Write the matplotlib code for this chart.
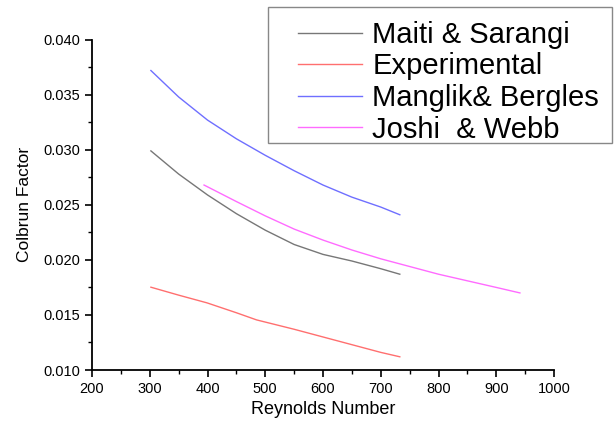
import numpy as np
import matplotlib
matplotlib.use("Agg")
import matplotlib.pyplot as plt
from matplotlib.patches import Rectangle
from matplotlib.ticker import MultipleLocator, FormatStrFormatter

plt.rcParams['font.family'] = ['Liberation Sans', 'DejaVu Sans']

# Maiti & Sarangi
re_ms = [302, 350, 400, 450, 500, 550, 600, 650, 700, 733]
f_ms = [0.0299, 0.0278, 0.0259, 0.0242, 0.0227, 0.0214, 0.0205, 0.0199, 0.0192, 0.0187]

# Experimental
re_exp = [302, 350, 399, 450, 485, 550, 600, 650, 700, 733]
f_exp = [0.01752, 0.0168, 0.0161, 0.0152, 0.01455, 0.0137, 0.0130, 0.0123, 0.0116, 0.0112]

# Manglik & Bergles
re_mb = [302, 350, 400, 450, 500, 550, 600, 650, 700, 733]
f_mb = [0.0372, 0.0348, 0.0327, 0.0310, 0.0295, 0.0281, 0.0268, 0.0257, 0.0248, 0.0241]

# Joshi & Webb
re_jw = [394, 450, 500, 550, 600, 650, 700, 750, 800, 850, 900, 941]
f_jw = [0.0268, 0.0253, 0.0240, 0.0228, 0.0218, 0.0209, 0.0201, 0.0194, 0.0187, 0.0181, 0.0175, 0.0170]

W, H = 615, 426
fig = plt.figure(figsize=(W / 100, H / 100), dpi=100)
ax = fig.add_axes([92/W, 56/H, 462/W, 330.3/H])

ax.plot(re_ms, f_ms, color='#777777', lw=1.0, label='Maiti & Sarangi')
ax.plot(re_exp, f_exp, color='#ff6f6f', lw=1.0, label='Experimental')
ax.plot(re_mb, f_mb, color='#6f6fff', lw=1.0, label='Manglik& Bergles')
ax.plot(re_jw, f_jw, color='#ff6bff', lw=1.0, label='Joshi  & Webb')

ax.set_xlim(200, 1000)
ax.set_ylim(0.010, 0.040)
ax.xaxis.set_major_locator(MultipleLocator(100))
ax.xaxis.set_minor_locator(MultipleLocator(50))
ax.yaxis.set_major_locator(MultipleLocator(0.005))
ax.yaxis.set_minor_locator(MultipleLocator(0.0025))
ax.yaxis.set_major_formatter(FormatStrFormatter('%.3f'))

for s in ['top', 'right']:
    ax.spines[s].set_visible(False)
for s in ['left', 'bottom']:
    ax.spines[s].set_linewidth(1.3)
ax.tick_params(which='major', direction='out', length=5, width=1.2, labelsize=10.5)
ax.tick_params(which='minor', direction='out', length=3, width=1.0)

ax.set_xlabel('Reynolds Number', fontsize=13)
ax.set_ylabel('Colbrun Factor', fontsize=12.5, labelpad=8)

# legend box sits above the axes, frame drawn separately
fig.patches.append(Rectangle((268/W, 1 - 143/H), 344/W, 136/H,
                             transform=fig.transFigure, fill=False,
                             edgecolor='#888888', lw=1.0))
leg = ax.legend(loc='upper left', bbox_to_anchor=(298/W, 1 - 21/H),
                bbox_transform=fig.transFigure, fontsize=21, frameon=False,
                handlelength=2.2, handletextpad=0.35, labelspacing=0.12,
                borderpad=0, borderaxespad=0)

fig.savefig('out.png', dpi=100)
